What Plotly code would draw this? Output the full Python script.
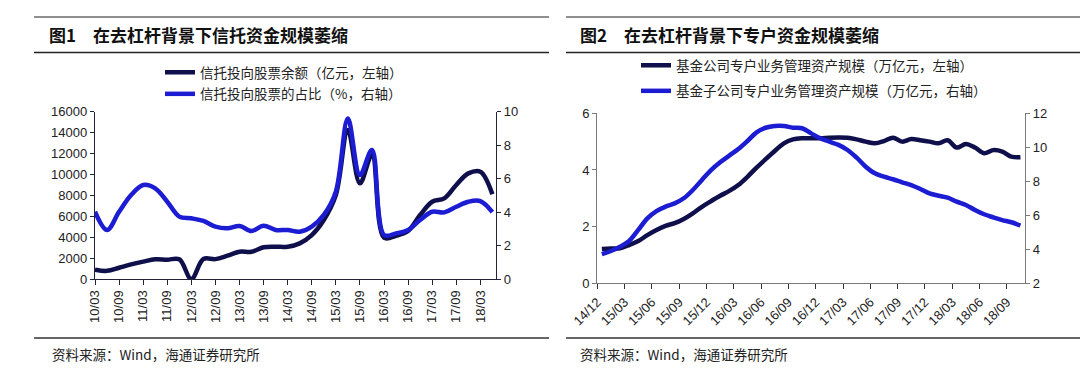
import plotly.graph_objects as go

# ---------------- data ----------------
# Figure 1: quarterly, 2010Q1 .. 2018Q2
trust_stock_amount = [900, 780, 1080, 1400, 1660, 1880, 1850, 1880, 0, 1910,
                      1900, 2230, 2610, 2600, 3030, 3080, 3090, 3410, 4200, 5640,
                      8030, 14240, 9150, 11850, 3950, 4140, 4590, 6120, 7390, 7710,
                      8990, 10100, 10260, 8100]
trust_stock_share = [4.02, 2.93, 4.02, 5.02, 5.62, 5.42, 4.62, 3.73, 3.63, 3.47,
                     3.13, 3.03, 3.17, 2.87, 3.19, 2.93, 2.93, 2.83, 3.13, 3.83,
                     5.22, 9.6, 6.22, 7.71, 2.63, 2.73, 2.93, 3.53, 4.02, 3.98,
                     4.32, 4.62, 4.66, 4.0]
fig1_ticklabels = ["10/03", "10/09", "11/03", "11/09", "12/03", "12/09", "13/03",
                   "13/09", "14/03", "14/09", "15/03", "15/09", "16/03", "16/09",
                   "17/03", "17/09", "18/03"]

# Figure 2: monthly, 2014-12 .. 2018-10
fund_co_special = [1.21, 1.23, 1.24, 1.35, 1.49, 1.70, 1.88, 2.03, 2.12, 2.27,
                   2.47, 2.70, 2.90, 3.09, 3.26, 3.47, 3.76, 4.08, 4.38, 4.67,
                   4.94, 5.08, 5.12, 5.12, 5.12, 5.14, 5.15, 5.14, 5.08, 5.00,
                   4.94, 5.02, 5.14, 5.00, 5.09, 5.05, 5.00, 4.94, 5.05, 4.79,
                   4.92, 4.79, 4.59, 4.70, 4.65, 4.47, 4.45]
fund_sub_special = [3.71, 3.90, 4.15, 4.49, 5.14, 5.82, 6.25, 6.51, 6.70, 7.00,
                    7.49, 8.08, 8.66, 9.12, 9.51, 9.90, 10.37, 10.88, 11.15, 11.25,
                    11.25, 11.15, 11.12, 10.82, 10.53, 10.33, 10.14, 9.84, 9.39, 8.86,
                    8.47, 8.27, 8.12, 7.94, 7.78, 7.55, 7.29, 7.15, 7.04, 6.80,
                    6.61, 6.31, 6.06, 5.88, 5.72, 5.59, 5.40]
fig2_ticklabels = ["14/12", "15/03", "15/06", "15/09", "15/12", "16/03", "16/06",
                   "16/09", "16/12", "17/03", "17/06", "17/09", "17/12", "18/03",
                   "18/06", "18/09"]

names = ["信托投向股票余额（亿元，左轴）", "信托投向股票的占比（%，右轴）",
         "基金公司专户业务管理资产规模（万亿元，左轴）",
         "基金子公司专户业务管理资产规模（万亿元，右轴）"]
titles = ["图1\u3000在去杠杆背景下信托资金规模萎缩", "图2\u3000在去杠杆背景下专户资金规模萎缩"]
source = "资料来源：Wind，海通证券研究所"

# ---------------- style ----------------
W, H = 1080, 369
DARK = "#0f0f4c"
BLUE = "#1c1cd2"
CJK = "Noto Sans CJK SC"
NUM = "Liberation Sans, Arial, sans-serif"

def px_x(p):
    return p / W

def px_y(p):
    return 1 - p / H

fig = go.Figure()
x1 = list(range(len(trust_stock_amount)))
x2 = list(range(len(fund_co_special)))

fig.add_trace(go.Scatter(x=x1, y=trust_stock_amount, name=names[0], mode="lines",
                         line=dict(color=DARK, width=4.5, shape="spline", smoothing=1),
                         xaxis="x", yaxis="y", legend="legend", legendgroup="a"))
fig.add_trace(go.Scatter(x=x1, y=trust_stock_share, name=names[1], mode="lines",
                         line=dict(color=BLUE, width=4.5, shape="spline", smoothing=1),
                         xaxis="x", yaxis="y2", legend="legend", legendgroup="b"))
fig.add_trace(go.Scatter(x=x2, y=fund_co_special, name=names[2], mode="lines",
                         line=dict(color=DARK, width=4.5, shape="spline", smoothing=1),
                         xaxis="x2", yaxis="y3", legend="legend2", legendgroup="c"))
fig.add_trace(go.Scatter(x=x2, y=fund_sub_special, name=names[3], mode="lines",
                         line=dict(color=BLUE, width=4.5, shape="spline", smoothing=1),
                         xaxis="x2", yaxis="y4", legend="legend2", legendgroup="d"))

ax_common = dict(showgrid=False, zeroline=False, showline=True, ticks="outside",
                 automargin=False,
                 tickfont=dict(family=NUM, size=13, color="#222"))
ax1_col = "#22223a"
ax2_col = "#7a7a7a"

fig.update_layout(
    width=W, height=H, autosize=False,
    margin=dict(l=0, r=0, t=0, b=0, pad=0, autoexpand=False),
    paper_bgcolor="white", plot_bgcolor="white",
    xaxis=dict(**ax_common, domain=[px_x(95), px_x(496)], range=[0, 33.3],
               anchor="y", linecolor=ax1_col, linewidth=1.3, tickcolor=ax1_col,
               ticklen=5, tickvals=[2 * k for k in range(len(fig1_ticklabels))],
               ticktext=fig1_ticklabels, tickangle=-90),
    yaxis=dict(**ax_common, domain=[px_y(279), px_y(111.7)], range=[0, 16000],
               dtick=2000, tickformat="d", anchor="x", linecolor=ax1_col,
               linewidth=1.3, tickcolor=ax1_col, ticklen=4),
    yaxis2=dict(**ax_common, overlaying="y", side="right", anchor="x",
                range=[0, 10], dtick=2, linecolor=ax1_col, linewidth=1.3,
                tickcolor=ax1_col, ticklen=4),
    xaxis2=dict(**ax_common, domain=[px_x(597.3), px_x(1025)], range=[-0.5, 46.5],
                anchor="y3", linecolor=ax2_col, linewidth=1.3, tickcolor="#333",
                ticklen=5,
                tickvals=[3 * k - 0.5 for k in range(len(fig2_ticklabels))],
                ticktext=fig2_ticklabels, tickangle=-45),
    yaxis3=dict(**ax_common, domain=[px_y(283.3), px_y(113.3)], range=[0, 6],
                dtick=2, anchor="x2", linecolor=ax2_col, linewidth=1.3,
                tickcolor=ax2_col, ticklen=4),
    yaxis4=dict(**ax_common, overlaying="y3", side="right", anchor="x2",
                range=[2, 12], dtick=2, linecolor=ax2_col, linewidth=1.3,
                tickcolor=ax2_col, ticklen=4),
    legend=dict(x=px_x(160), y=px_y(57), xanchor="left", yanchor="top",
                bgcolor="rgba(0,0,0,0)", font=dict(family=CJK, size=13.5, color="#222"),
                tracegroupgap=1),
    legend2=dict(x=px_x(636), y=px_y(50), xanchor="left", yanchor="top",
                 bgcolor="rgba(0,0,0,0)", font=dict(family=CJK, size=13.5, color="#222"),
                 tracegroupgap=5),
    showlegend=True,
)

# decorative title / source frames
def hline(x0, x1_, y, color, width):
    fig.add_shape(type="line", xref="paper", yref="paper",
                  x0=px_x(x0), x1=px_x(x1_), y0=px_y(y), y1=px_y(y),
                  line=dict(color=color, width=width))

hline(34, 549, 17, "#6a6a6a", 1.5)
hline(566, 1080, 17, "#6a6a6a", 1.5)
hline(34, 549, 52.5, "#222", 1.5)
hline(566, 1080, 52.5, "#222", 1.5)
hline(34, 549, 338, "#333", 1.5)
hline(566, 1080, 338, "#333", 1.5)

for txt, x in zip(titles, [47, 578]):
    fig.add_annotation(text="<b>" + txt + "</b>", x=px_x(x), y=px_y(35), xref="paper",
                       yref="paper", xanchor="left", yanchor="middle", showarrow=False,
                       font=dict(family=CJK, size=17, color="#111"))
for x in [50, 578]:
    fig.add_annotation(text=source, x=px_x(x), y=px_y(354), xref="paper",
                       yref="paper", xanchor="left", yanchor="middle", showarrow=False,
                       font=dict(family=CJK, size=13.5, color="#222"))

fig.write_html("out.html", config={"displayModeBar": False},
               post_script="document.body.style.margin='0';document.body.style.overflow='hidden';")
